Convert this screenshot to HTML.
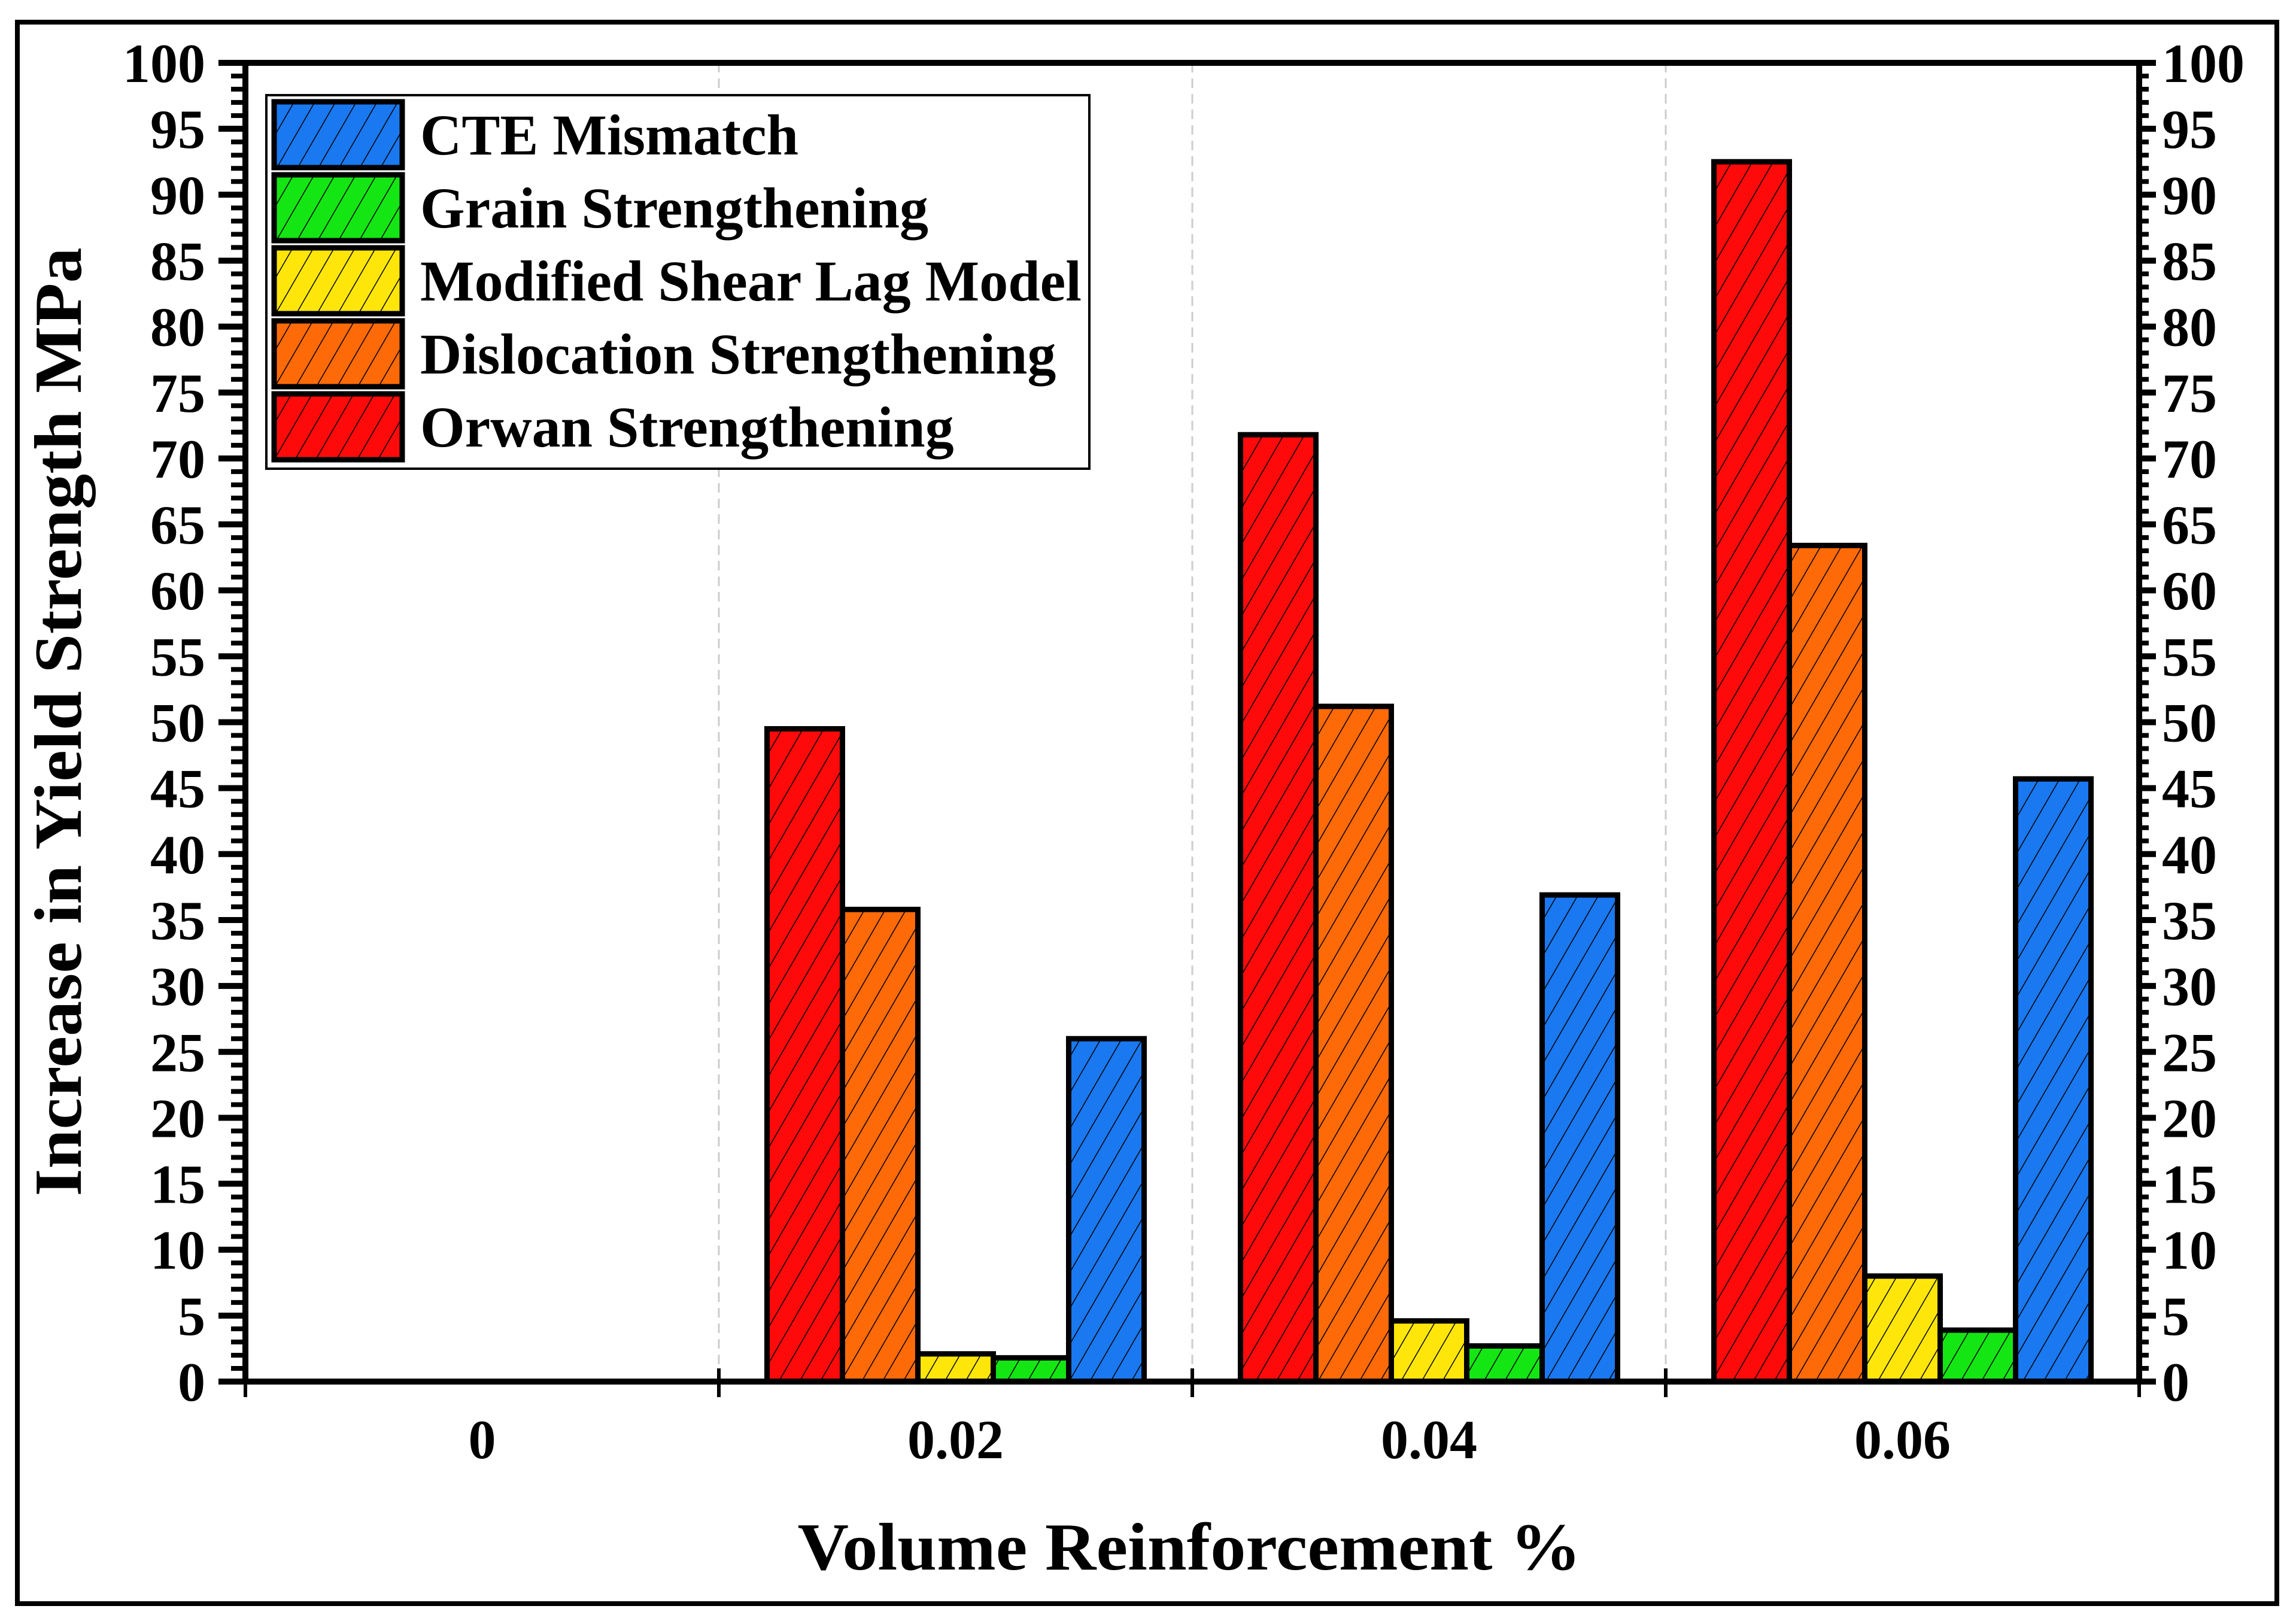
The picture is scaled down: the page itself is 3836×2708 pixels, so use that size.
<!DOCTYPE html>
<html><head><meta charset="utf-8"><style>
html,body{margin:0;padding:0;background:#fff;}
svg{display:block;}
text{font-family:"Liberation Serif",serif;font-weight:bold;fill:#000;}
</style></head><body>
<svg id="chart" width="3836" height="2708" viewBox="0 0 3836 2708" xmlns="http://www.w3.org/2000/svg">
<defs>
<pattern id="hatch" patternUnits="userSpaceOnUse" width="30" height="30" patternTransform="rotate(30)">
<line x1="0" y1="0" x2="0" y2="30" stroke="#000" stroke-width="3"/>
</pattern>
</defs>
<rect x="29" y="37" width="3775" height="2642" fill="#fff" stroke="#000" stroke-width="8"/>
<g id="grid"></g>
<g id="bars"></g>
<g id="axes"></g>
<g id="legend"></g>
<text transform="translate(135,1206) rotate(-90)" text-anchor="middle" font-size="112" textLength="1585" lengthAdjust="spacingAndGlyphs">Increase in Yield Strength MPa</text>
<text x="1987" y="2622" text-anchor="middle" font-size="112" textLength="1309" lengthAdjust="spacingAndGlyphs">Volume Reinforcement %</text>
</svg>
<script>
const categories = ["0", "0.02", "0.04", "0.06"];
const seriesNames = ["Orwan Strengthening", "Dislocation Strengthening", "Modified Shear Lag Model", "Grain Strengthening", "CTE Mismatch"];
const orwan = [0, 49.5, 71.8, 92.5];
const dislocation = [0, 35.8, 51.2, 63.4];
const shearLag = [0, 2.1, 4.6, 8.0];
const grain = [0, 1.8, 2.7, 3.9];
const cte = [0, 26.0, 36.9, 45.7];
const yTicks = [0,5,10,15,20,25,30,35,40,45,50,55,60,65,70,75,80,85,90,95,100];
const legendOrder = ["CTE Mismatch","Grain Strengthening","Modified Shear Lag Model","Dislocation Strengthening","Orwan Strengthening"];

const NS="http://www.w3.org/2000/svg";
const colors={"Orwan Strengthening":"#ff0a0a","Dislocation Strengthening":"#ff6a08","Modified Shear Lag Model":"#ffe60a","Grain Strengthening":"#14e614","CTE Mismatch":"#1a78f0"};
const seriesData=[orwan,dislocation,shearLag,grain,cte];
const L=410,R=3574,T=105,B=2308;
const yMax=100;
function yScale(v){return B-(v/yMax)*(B-T);}
const catW=(R-L)/categories.length;
function xCenter(i){return L+catW*(i+0.5);}
const barW=126;
function mk(tag,attrs,parent){const e=document.createElementNS(NS,tag);for(const k in attrs)e.setAttribute(k,attrs[k]);parent.appendChild(e);return e;}
const grid=document.getElementById('grid'),bars=document.getElementById('bars'),axes=document.getElementById('axes'),legend=document.getElementById('legend');

for(let i=1;i<categories.length;i++){
  const x=L+catW*i;
  const g=mk('line',{x1:x,y1:T,x2:x,y2:B,stroke:'#ccc','stroke-width':3,'stroke-dasharray':'16 10'},grid);
  
  
}
categories.forEach((c,i)=>{
  const start=xCenter(i)-barW*seriesData.length/2;
  seriesData.forEach((arr,s)=>{
    const v=arr[i]; if(v<=0) return;
    const x=start+s*barW, y=yScale(v), h=B-y;
    const r1=mk('rect',{x:x,y:y,width:barW,height:h,fill:colors[seriesNames[s]]},bars);
    
    
    const r2=mk('rect',{x:x,y:y,width:barW,height:h,fill:'url(#hatch)',stroke:'#000','stroke-width':9},bars);
    
    
  });
});
const frame=mk('path',{d:`M${L},${B} L${L},${T} L${R},${T} L${R},${B} Z`,fill:'none',stroke:'#000','stroke-width':10},axes);


for(let v=0;v<=yMax;v++){
  const y=yScale(v), major=v%5===0, len=major?45:24, w=major?10:8;
  const rlen=major?28:16;
  mk('line',{x1:L-len,y1:y,x2:L,y2:y,stroke:'#000','stroke-width':w},axes);
  mk('line',{x1:R,y1:y,x2:R+rlen,y2:y,stroke:'#000','stroke-width':w},axes);
}
yTicks.forEach(v=>{
  const y=yScale(v);
  const t1=mk('text',{x:343,y:y+32,'text-anchor':'end','font-size':92},axes);
  t1.textContent=v;
  
  
  const t2=mk('text',{x:3612,y:y+32,'text-anchor':'start','font-size':92},axes);
  t2.textContent=v;
  
  
});
for(let i=0;i<=categories.length;i++){
  const x=L+catW*i;
  mk('line',{x1:x,y1:B-22,x2:x,y2:B+26,stroke:'#000','stroke-width':6},axes);
}
categories.forEach((c,i)=>{
  const t=mk('text',{x:xCenter(i),y:2436,'text-anchor':'middle','font-size':92},axes);
  t.textContent=c;
  
  
});
const lb=mk('rect',{x:445,y:159,width:1375,height:624,fill:'#fff',stroke:'#000','stroke-width':4},legend);


legendOrder.forEach((n,k)=>{
  const y0=170+k*122;
  const s1=mk('rect',{x:458,y:y0,width:214,height:110,fill:colors[n]},legend);
  
  
  mk('rect',{x:458,y:y0,width:214,height:110,fill:'url(#hatch)',stroke:'#000','stroke-width':9},legend);
  const t=mk('text',{x:702,y:y0+88,'font-size':96},legend);
  t.textContent=n;
  
  
});
</script>
</body></html>
